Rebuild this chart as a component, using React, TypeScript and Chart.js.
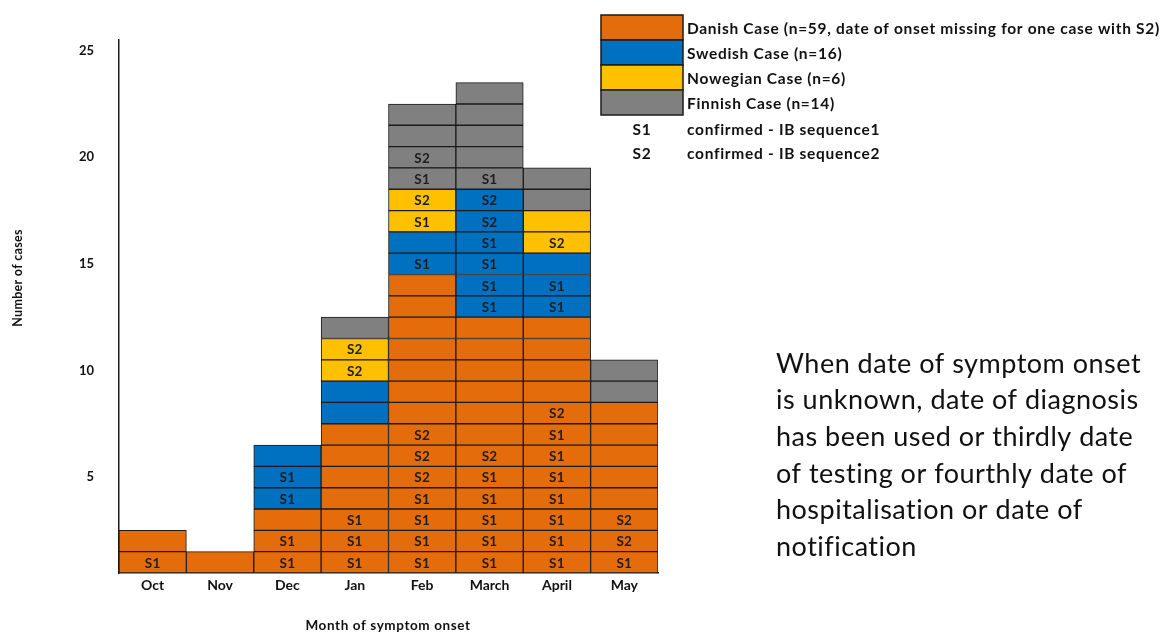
import React, { useEffect, useRef } from "react";
import { Chart, registerables } from "chart.js";

Chart.register(...registerables);

const months = ["Oct", "Nov", "Dec", "Jan", "Feb", "March", "April", "May"];

const danishCounts = [2, 1, 3, 7, 14, 12, 12, 8];
const swedishCounts = [0, 0, 3, 2, 2, 6, 3, 0];
const norwegianCounts = [0, 0, 0, 2, 2, 0, 2, 0];
const finnishCounts = [0, 0, 0, 1, 4, 5, 2, 2];

// sequence tags per cell, bottom to top within each country's block
const danishTags = [
  ["S1"],
  [],
  ["S1", "S1"],
  ["S1", "S1", "S1"],
  ["S1", "S1", "S1", "S1", "S2", "S2", "S2"],
  ["S1", "S1", "S1", "S1", "S1", "S2"],
  ["S1", "S1", "S1", "S1", "S1", "S1", "S1", "S2"],
  ["S1", "S2", "S2"],
];
const swedishTags = [
  [],
  [],
  ["S1", "S1"],
  [],
  ["S1"],
  ["S1", "S1", "S1", "S1", "S2", "S2"],
  ["S1", "S1"],
  [],
];
const norwegianTags = [[], [], [], ["S2", "S2"], ["S1", "S2"], [], ["S2"], []];
const finnishTags = [[], [], [], [], ["S1", "S2"], ["S1"], [], []];

const yTickLabels = [5, 10, 15, 20, 25];

const legendLabels = [
  "Danish Case (n=59, date of onset missing for one case with S2)",
  "Swedish Case (n=16)",
  "Nowegian Case (n=6)",
  "Finnish Case (n=14)",
];
const tagLegend = [
  ["S1", "confirmed - IB sequence1"],
  ["S2", "confirmed - IB sequence2"],
];
const noteLines = [
  "When date of symptom onset",
  "is unknown, date of diagnosis",
  "has been used or thirdly date",
  "of testing or fourthly date of",
  "hospitalisation or date of",
  "notification",
];

const colors = ["#E46C0A", "#0070C0", "#FFC000", "#808080"];
const FONT = "Lato, 'Noto Sans', sans-serif";

export default function App() {
  const ref = useRef<HTMLCanvasElement>(null);

  useEffect(() => {
    if (!ref.current) return;
    const groups = [
      { counts: danishCounts, tags: danishTags, color: colors[0] },
      { counts: swedishCounts, tags: swedishTags, color: colors[1] },
      { counts: norwegianCounts, tags: norwegianTags, color: colors[2] },
      { counts: finnishCounts, tags: finnishTags, color: colors[3] },
    ];
    const datasets: any[] = [];
    groups.forEach((g) => {
      const max = Math.max(...g.counts);
      for (let k = 0; k < max; k++) {
        datasets.push({
          data: g.counts.map((n) => (k < n ? 1 : null)),
          tags: g.tags.map((t) => t[k] || ""),
          backgroundColor: g.color,
          borderColor: "#1b1b1b",
          borderWidth: 1,
          borderSkipped: false,
          categoryPercentage: 1,
          barPercentage: 1,
          stack: "cases",
        });
      }
    });

    const overlay = {
      id: "overlay",
      afterDatasetsDraw(chart: any) {
        const ctx = chart.ctx;
        ctx.save();
        ctx.fillStyle = "#1e1e1e";
        ctx.font = `bold 13.5px ${FONT}`;
        (ctx as any).letterSpacing = "0.3px";
        ctx.textAlign = "center";
        ctx.textBaseline = "middle";
        chart.data.datasets.forEach((ds: any, di: number) => {
          const meta = chart.getDatasetMeta(di);
          meta.data.forEach((el: any, i: number) => {
            if (ds.data[i] == null || !ds.tags[i]) return;
            ctx.fillText(ds.tags[i], el.x, (el.y + el.base) / 2 + 1);
          });
        });
        ctx.restore();
      },
      afterDraw(chart: any) {
        const ctx = chart.ctx;
        ctx.save();
        // legend boxes
        const bx = 601, bw = 82, bh = 25, by = 15;
        legendLabels.forEach((lab, i) => {
          ctx.fillStyle = colors[i];
          ctx.fillRect(bx, by + i * bh, bw, bh);
          ctx.strokeStyle = "#1b1b1b";
          ctx.lineWidth = 1.5;
          ctx.strokeRect(bx, by + i * bh, bw, bh);
          ctx.fillStyle = "#111";
          ctx.font = `bold 15.5px ${FONT}`;
          (ctx as any).letterSpacing = "0.7px";
          ctx.textAlign = "left";
          ctx.textBaseline = "middle";
          ctx.fillText(lab, 687, by + i * bh + bh / 2 + 1);
        });
        tagLegend.forEach(([t, lab], i) => {
          const y = 130 + i * 24;
          ctx.font = `bold 15.5px ${FONT}`;
          (ctx as any).letterSpacing = "0.7px";
          ctx.textAlign = "center";
          ctx.fillText(t, 642, y);
          ctx.textAlign = "left";
          ctx.fillText(lab, 687, y);
        });
        // note text
        ctx.font = `27px ${FONT}`;
        (ctx as any).letterSpacing = "0.5px";
        ctx.fillStyle = "#111";
        ctx.textAlign = "left";
        ctx.textBaseline = "middle";
        noteLines.forEach((l, i) => ctx.fillText(l, 776, 364 + i * 36.6));
        // axis titles
        ctx.font = `bold 13.5px ${FONT}`;
        (ctx as any).letterSpacing = "0.6px";
        ctx.textAlign = "center";
        ctx.fillText("Month of symptom onset", 388, 626);
        ctx.save();
        ctx.translate(18, 278);
        ctx.rotate(-Math.PI / 2);
        ctx.font = `bold 12.5px ${FONT}`;
        (ctx as any).letterSpacing = "0.3px";
        ctx.fillText("Number of cases", 0, 0);
        ctx.restore();
        ctx.restore();
      },
    };

    const chart = new Chart(ref.current, {
      type: "bar",
      data: { labels: months, datasets },
      options: {
        animation: false,
        responsive: false,
        layout: { padding: { left: 0, top: 40, right: 508, bottom: 0 } },
        plugins: { legend: { display: false }, tooltip: { enabled: false } },
        scales: {
          x: {
            stacked: true,
            grid: { display: false, drawTicks: false },
            border: { display: true, color: "#1b1b1b", width: 1.5 },
            ticks: {
              color: "#111",
              font: { family: FONT, size: 14, weight: "bold" },
              padding: 4,
            },
            afterFit: (s: any) => {
              s.height = 59;
            },
          },
          y: {
            stacked: true,
            min: 0,
            max: 25,
            grid: { display: false, drawTicks: false },
            border: { display: true, color: "#1b1b1b", width: 1.5 },
            afterBuildTicks: (s: any) => {
              s.ticks = yTickLabels.map((v) => ({ value: v - 0.5, label: String(v) }));
            },
            ticks: {
              color: "#111",
              font: { family: FONT, size: 13, weight: "bold" },
              padding: 25,
              callback: (v: any) => String(Math.round(Number(v) + 0.5)),
            },
            afterFit: (s: any) => {
              s.width = 119;
            },
          },
        },
      },
      plugins: [overlay],
    });
    return () => chart.destroy();
  }, []);

  return (
    <div style={{ position: "absolute", left: 0, top: 0, width: 1166, height: 632, background: "#fff" }}>
      <canvas ref={ref} width={1166} height={632} />
    </div>
  );
}
